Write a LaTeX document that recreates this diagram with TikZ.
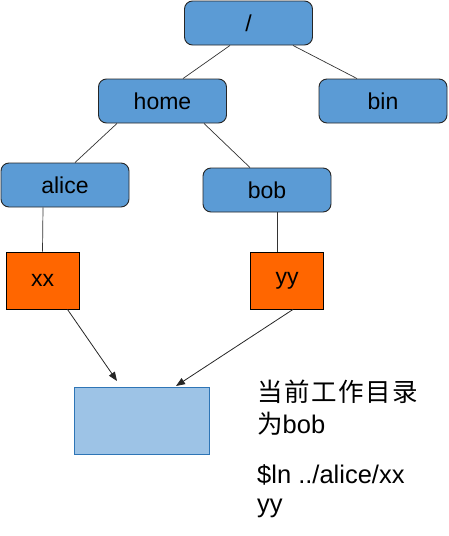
\documentclass[tikz,border=0pt]{standalone}
\usepackage{fontspec}
\setmainfont{Liberation Sans}
\newfontfamily\cjk[LetterSpace=6]{Noto Sans CJK SC}
\usetikzlibrary{arrows.meta}
\definecolor{dirblue}{HTML}{5B9BD5}
\definecolor{fileorange}{HTML}{FF6600}
\definecolor{lightfill}{HTML}{9DC3E6}
\definecolor{lightedge}{HTML}{2E75B6}
\tikzset{
  dirbox/.style={draw=black!85, line width=0.9pt, fill=dirblue, rounded corners=8pt,
    minimum width=128pt, minimum height=44pt, inner sep=0pt, font=\fontsize{23}{27}\selectfont},
  filebox/.style={draw=black, line width=0.9pt, fill=fileorange,
    minimum width=73pt, minimum height=57pt, inner sep=0pt, font=\fontsize{23}{27}\selectfont},
  tgtbox/.style={draw=lightedge, line width=1pt, fill=lightfill,
    minimum width=135pt, minimum height=67pt, inner sep=0pt},
  link/.style={draw=black!80, line width=0.7pt},
  arr/.style={draw=black!85, line width=0.8pt, -{Triangle[length=9pt,width=7pt]}},
  note/.style={anchor=base west, inner sep=0pt, font=\fontsize{25.5}{30}\selectfont}
}
\begin{document}
\begin{tikzpicture}[x=1pt,y=-1pt]
\useasboundingbox (0,0) rectangle (449,536);
\node[dirbox] (root) at (248.5,23) {/};
\node[dirbox] (home) at (162.5,101) {home};
\node[dirbox] (bin) at (383,101) {bin};
\node[dirbox] (alice) at (65,185) {alice};
\node[dirbox] (bob) at (267,190) {bob};
\node[filebox] (xx) at (42.5,280.5) {xx};
\node[filebox] (yy) at (287,280.5) {yy};
\node[tgtbox] (tgt) at (141.5,420.5) {};
\coordinate (xxtip) at (117,381);
\coordinate (yytip) at (176,386);

\draw[link] ([xshift=-18.5pt]root.south) -- ([xshift=20.5pt]home.north);
\draw[link] ([xshift=44.5pt]root.south) -- ([xshift=-26pt]bin.north);
\draw[link] ([xshift=-45.5pt]home.south) -- ([xshift=10pt]alice.north);
\draw[link] ([xshift=41.5pt]home.south) -- ([xshift=-17pt]bob.north);
\draw[link] ([xshift=-22pt]alice.south) -- (xx.north);
\draw[link] ([xshift=10pt]bob.south) -- ([xshift=-10pt]yy.north);
\draw[arr] ([xshift=25pt]xx.south) -- (xxtip);
\draw[arr] ([xshift=6pt]yy.south) -- (yytip);

\node[note] (n1) at (257,401) {\cjk 当前工作目录};
\node[note] (n2) at (257,433) {{\cjk 为}bob};
\node[note] (n3) at (257,483) {\$ln ../alice/xx};
\node[note] (n4) at (257,512) {yy};
\end{tikzpicture}
\end{document}
